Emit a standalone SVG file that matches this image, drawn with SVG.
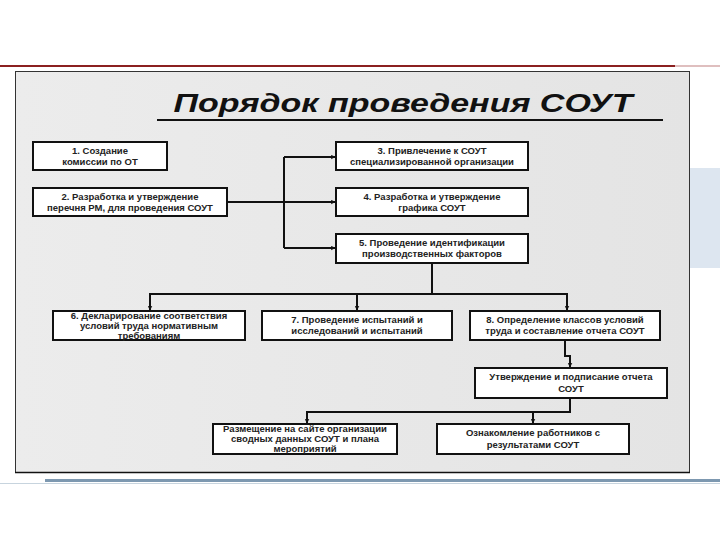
<svg xmlns="http://www.w3.org/2000/svg" width="720" height="540" viewBox="0 0 720 540">
<style>
.box{fill:#fff;stroke:#111;stroke-width:2}
.t{font-family:"Liberation Sans",Arial,sans-serif;font-size:9.5px;font-weight:bold;fill:#222;text-anchor:middle}
.c{fill:none;stroke:#111;stroke-width:2}
</style>
<defs>
<marker id="ah" viewBox="0 0 10 10" refX="9" refY="5" markerWidth="5" markerHeight="5" orient="auto" markerUnits="userSpaceOnUse">
<path d="M0,0 L10,5 L0,10 L3,5 Z" fill="#111"/>
</marker>
<linearGradient id="pg" x1="0" y1="0" x2="1" y2="0">
<stop offset="0" stop-color="#ececec"/>
<stop offset="1" stop-color="#e4e4e4"/>
</linearGradient>
</defs>
<rect x="0" y="0" width="720" height="540" fill="#fff"/>
<rect x="0" y="65" width="675" height="2" fill="#8b2020"/>
<rect x="675" y="65.5" width="45" height="1" fill="#c08080"/>
<rect x="690" y="168" width="30" height="100" fill="#dde6f0"/>
<rect x="15.5" y="71.5" width="674" height="401" fill="url(#pg)" stroke="#333" stroke-width="1"/>
<line x1="15" y1="472.5" x2="690" y2="472.5" stroke="#111" stroke-width="1.5"/>
<rect x="45" y="479" width="675" height="3" fill="#7d98b0"/>
<line x1="0" y1="483.5" x2="720" y2="483.5" stroke="#c7d4de" stroke-width="1"/>

<g id="title">
<text x="403" y="112" font-family="Liberation Sans,Arial,sans-serif" font-size="26" font-weight="bold" font-style="italic" fill="#111" text-anchor="middle" textLength="459" lengthAdjust="spacingAndGlyphs">Порядок проведения СОУТ</text>
<line x1="157" y1="120" x2="663" y2="120" stroke="#111" stroke-width="2"/>
</g>

<g id="connectors">
<polyline class="c" points="227,202 284,202"/>
<line class="c" x1="284" y1="157" x2="284" y2="248"/>
<line class="c" x1="284" y1="157" x2="335" y2="157" marker-end="url(#ah)"/>
<line class="c" x1="284" y1="202" x2="335" y2="202" marker-end="url(#ah)"/>
<line class="c" x1="284" y1="248" x2="335" y2="248" marker-end="url(#ah)"/>
<line class="c" x1="432" y1="263" x2="432" y2="294"/>
<line class="c" x1="149" y1="294" x2="568" y2="294"/>
<line class="c" x1="150" y1="294" x2="150" y2="310" marker-end="url(#ah)"/>
<line class="c" x1="357" y1="294" x2="357" y2="310" marker-end="url(#ah)"/>
<line class="c" x1="567" y1="294" x2="567" y2="310" marker-end="url(#ah)"/>
<polyline class="c" points="565,340 565,356 570,356 570,367" marker-end="url(#ah)"/>
<line class="c" x1="570" y1="398" x2="570" y2="412"/>
<line class="c" x1="306" y1="412" x2="571" y2="412"/>
<line class="c" x1="307" y1="412" x2="307" y2="423" marker-end="url(#ah)"/>
<line class="c" x1="533" y1="412" x2="533" y2="423" marker-end="url(#ah)"/>
</g>

<g id="n1"><rect class="box" x="33" y="142" width="134" height="28"/>
<text class="t" x="100" y="154">1. Создание</text><text class="t" x="100" y="165">комиссии по ОТ</text></g>
<g id="n2"><rect class="box" x="33" y="188" width="194" height="28"/>
<text class="t" x="130" y="200">2. Разработка и утверждение</text><text class="t" x="130" y="211">перечня РМ, для проведения СОУТ</text></g>
<g id="n3"><rect class="box" x="336" y="142" width="192" height="28"/>
<text class="t" x="432" y="154">3. Привлечение к СОУТ</text><text class="t" x="432" y="165">специализированной организации</text></g>
<g id="n4"><rect class="box" x="336" y="188" width="192" height="28"/>
<text class="t" x="432" y="200">4. Разработка и утверждение</text><text class="t" x="432" y="211">графика  СОУТ</text></g>
<g id="n5"><rect class="box" x="336" y="234" width="192" height="29"/>
<text class="t" x="432" y="246">5. Проведение идентификации</text><text class="t" x="432" y="257">производственных факторов</text></g>
<g id="n6"><rect class="box" x="53" y="311" width="192" height="29"/>
<text class="t" x="149" y="318.5">6. Декларирование соответствия</text><text class="t" x="149" y="328.5">условий труда нормативным</text><text class="t" x="149" y="338.5">требованиям</text></g>
<g id="n7"><rect class="box" x="262" y="311" width="190" height="29"/>
<text class="t" x="357" y="323">7. Проведение испытаний и</text><text class="t" x="357" y="334">исследований и испытаний</text></g>
<g id="n8"><rect class="box" x="470" y="311" width="190" height="29"/>
<text class="t" x="565" y="323">8. Определение классов условий</text><text class="t" x="565" y="334">труда и составление отчета СОУТ</text></g>
<g id="n9"><rect class="box" x="475" y="368" width="192" height="30"/>
<text class="t" x="571" y="380">Утверждение и подписание отчета</text><text class="t" x="571" y="392">СОУТ</text></g>
<g id="n10"><rect class="box" x="213" y="424" width="184" height="30"/>
<text class="t" x="305" y="432">Размещение на сайте организации</text><text class="t" x="305" y="442">сводных данных СОУТ и плана</text><text class="t" x="305" y="452">мероприятий</text></g>
<g id="n11"><rect class="box" x="437" y="424" width="192" height="30"/>
<text class="t" x="533" y="436">Ознакомление работников с</text><text class="t" x="533" y="448">результатами СОУТ</text></g>
</svg>
